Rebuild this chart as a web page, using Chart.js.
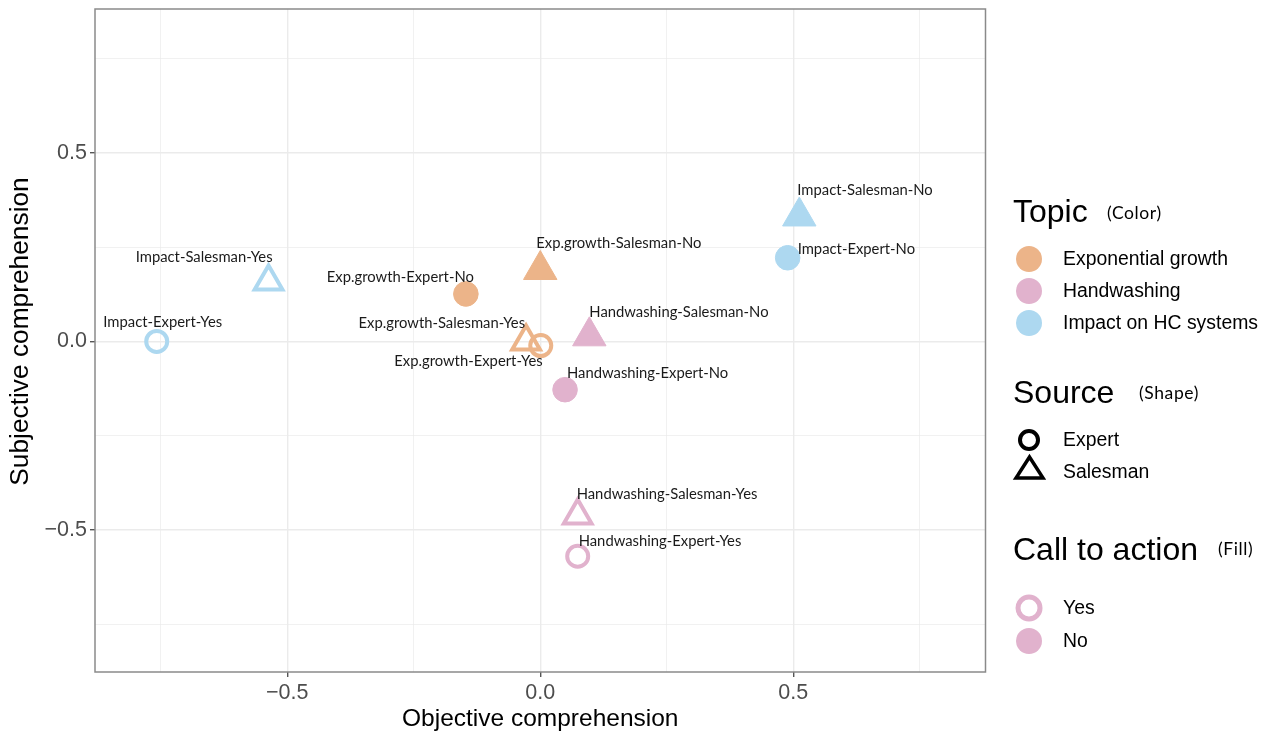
<!DOCTYPE html>
<html lang="en">
<head>
<meta charset="UTF-8">
<title>Objective vs subjective comprehension</title>
<script src="https://cdn.jsdelivr.net/npm/chart.js"></script>
<style>
  body { margin: 0; background: #fff; font-family: "Liberation Sans", Arial, sans-serif; }
  .wrap { position: relative; width: 1269px; height: 734px; }
  #plot { position: absolute; left: 0; top: 0; }
  .lg { position: absolute; white-space: nowrap; color: #000; line-height: 1; transform: translateY(-50%); }
  .lg.title { font-size: 32px; }
  .lg.note { font-size: 17.5px; letter-spacing: 0.6px; font-family: Lato, "Noto Sans", sans-serif; }
  .lg.item { font-size: 19.4px; }
  svg.keys { position: absolute; left: 0; top: 0; }
</style>
</head>
<body>
<div class="wrap">
  <canvas id="plot" width="1000" height="734"></canvas>

  <svg class="keys" width="1269" height="734">
    <circle cx="1029" cy="259" r="13" fill="#ECB489"/>
    <circle cx="1029" cy="291" r="13" fill="#E1B2CD"/>
    <circle cx="1029" cy="323" r="13" fill="#ADD8F0"/>
    <circle cx="1029" cy="440" r="9" fill="none" stroke="#000" stroke-width="4"/>
    <polygon points="1029.5,457 1016,478 1043,478" fill="none" stroke="#000" stroke-width="3.5"/>
    <circle cx="1029" cy="608" r="11" fill="none" stroke="#E1B2CD" stroke-width="5"/>
    <circle cx="1029" cy="641" r="13" fill="#E1B2CD"/>
  </svg>

  <div class="lg title" style="left:1013px; top:211px;">Topic</div>
  <div class="lg note" style="left:1107px; top:213px;">(Color)</div>
  <div class="lg item" style="left:1063px; top:259px;">Exponential growth</div>
  <div class="lg item" style="left:1063px; top:291px;">Handwashing</div>
  <div class="lg item" style="left:1063px; top:323px;">Impact on HC systems</div>

  <div class="lg title" style="left:1013px; top:392px;">Source</div>
  <div class="lg note" style="left:1139px; top:393px;">(Shape)</div>
  <div class="lg item" style="left:1063px; top:440px;">Expert</div>
  <div class="lg item" style="left:1063px; top:472px;">Salesman</div>

  <div class="lg title" style="left:1013px; top:549px;">Call to action</div>
  <div class="lg note" style="left:1218px; top:549px;">(Fill)</div>
  <div class="lg item" style="left:1063px; top:608px;">Yes</div>
  <div class="lg item" style="left:1063px; top:641px;">No</div>
</div>

<script>
// data
const pointLabels = [
  'Impact-Expert-Yes', 'Impact-Salesman-Yes', 'Exp.growth-Expert-No', 'Exp.growth-Salesman-No',
  'Exp.growth-Salesman-Yes', 'Exp.growth-Expert-Yes', 'Handwashing-Salesman-No', 'Handwashing-Expert-No',
  'Handwashing-Salesman-Yes', 'Handwashing-Expert-Yes', 'Impact-Salesman-No', 'Impact-Expert-No'
];
const topics  = ['Impact', 'Impact', 'Exp', 'Exp', 'Exp', 'Exp', 'Hand', 'Hand', 'Hand', 'Hand', 'Impact', 'Impact'];
const sources = ['Expert', 'Salesman', 'Expert', 'Salesman', 'Salesman', 'Expert', 'Salesman', 'Expert', 'Salesman', 'Expert', 'Salesman', 'Expert'];
const calls   = ['Yes', 'Yes', 'No', 'No', 'Yes', 'Yes', 'No', 'No', 'Yes', 'Yes', 'No', 'No'];
const objective  = [-0.758, -0.537, -0.147, 0.000, -0.028, 0.001, 0.097, 0.049, 0.074, 0.074, 0.512, 0.489];
const subjective = [0.000, 0.159, 0.126, 0.190, 0.000, -0.011, 0.014, -0.128, -0.462, -0.570, 0.332, 0.222];
const gridValues = [-0.75, -0.5, -0.25, 0, 0.25, 0.5, 0.75];
const xTitle = 'Objective comprehension';
const yTitle = 'Subjective comprehension';

const topicColor = { Exp: '#ECB489', Hand: '#E1B2CD', Impact: '#ADD8F0' };

// label placement next to each point: [dx, dy, align]
const labelOffsets = [
  [6, -19, 'center'], [4, -24, 'right'], [8, -17, 'right'], [-4, -27, 'left'],
  [-1, -18, 'right'], [2, 16, 'right'], [0, -24, 'left'], [2, -16, 'left'],
  [-1, -21, 'left'], [1, -15, 'left'], [-2, -26, 'left'], [10, -9, 'left']
];

const points = objective.map((x, i) => ({ x: x, y: subjective[i] }));
const colors = topics.map(t => topicColor[t]);
const hollow = calls.map(c => c === 'Yes');
const radii = sources.map((s, i) => s === 'Expert' ? (hollow[i] ? 10.5 : 12.3) : (hollow[i] ? 16 : 19.3));

const isMajor = v => Math.abs(v * 2 - Math.round(v * 2)) < 1e-6;
const fmt = v => (v < 0 ? '\u2212' : '') + Math.abs(v).toFixed(1);

const boxPlugin = {
  id: 'box',
  afterDatasetsDraw(chart) {
    const a = chart.chartArea, ctx = chart.ctx;
    ctx.save();
    ctx.strokeStyle = '#8a8a8a';
    ctx.lineWidth = 1.5;
    ctx.strokeRect(a.left, a.top, a.right - a.left, a.bottom - a.top);
    // y axis title, placed by hand
    ctx.translate(21, 331.5);
    ctx.rotate(-Math.PI / 2);
    ctx.font = '26.3px "Liberation Sans", Arial, sans-serif';
    ctx.fillStyle = '#000';
    ctx.textAlign = 'center';
    ctx.textBaseline = 'middle';
    ctx.fillText(yTitle, 0, 0);
    ctx.restore();
  }
};

const labelPlugin = {
  id: 'pointText',
  afterDraw(chart) {
    const ctx = chart.ctx;
    const meta = chart.getDatasetMeta(0);
    ctx.save();
    ctx.font = '14.8px Lato, "Noto Sans", sans-serif';
    ctx.fillStyle = '#1a1a1a';
    ctx.textBaseline = 'middle';
    meta.data.forEach((el, i) => {
      const o = labelOffsets[i];
      ctx.textAlign = o[2];
      ctx.fillText(pointLabels[i], el.x + o[0], el.y + o[1]);
    });
    ctx.restore();
  }
};

function axisGrid() {
  return {
    color: '#ebebeb',
    lineWidth: c => (c.tick && isMajor(c.tick.value)) ? 1.4 : 0.7,
    tickColor: c => (c.tick && isMajor(c.tick.value)) ? '#555' : 'rgba(0,0,0,0)',
    tickLength: 5,
    drawTicks: true
  };
}

new Chart(document.getElementById('plot').getContext('2d'), {
  type: 'scatter',
  data: {
    datasets: [{
      label: 'points',
      data: points,
      pointStyle: sources.map(s => s === 'Expert' ? 'circle' : 'triangle'),
      pointRadius: radii,
      pointHoverRadius: radii,
      backgroundColor: colors.map((c, i) => hollow[i] ? 'rgba(255,255,255,0)' : c),
      borderColor: colors,
      borderWidth: hollow.map(h => h ? 4 : 1)
    }]
  },
  options: {
    responsive: false,
    animation: false,
    devicePixelRatio: 1,
    layout: { autoPadding: false, padding: { top: 9, right: 14.5, left: 0, bottom: 0 } },
    plugins: { legend: { display: false }, tooltip: { enabled: false } },
    scales: {
      x: {
        type: 'linear', min: -0.88, max: 0.88,
        afterBuildTicks: s => { s.ticks = gridValues.map(v => ({ value: v })); },
        afterFit: s => { s.height = 62; s.paddingLeft = 0; s.paddingRight = 0; },
        border: { display: false },
        grid: axisGrid(),
        ticks: {
          callback: v => isMajor(v) ? fmt(v) : '',
          color: '#4d4d4d', font: { size: 21.5, family: '"Liberation Sans", Arial' }, padding: 3,
          maxRotation: 0, autoSkip: false
        },
        title: {
          display: true, text: xTitle, color: '#000',
          font: { size: 24.5, family: '"Liberation Sans", Arial' }, padding: { top: 0, bottom: 0 }
        }
      },
      y: {
        type: 'linear', min: -0.877, max: 0.882,
        afterBuildTicks: s => { s.ticks = gridValues.map(v => ({ value: v })); },
        afterFit: s => { s.width = 95; s.paddingTop = 0; s.paddingBottom = 0; },
        border: { display: false },
        grid: axisGrid(),
        ticks: {
          callback: v => isMajor(v) ? fmt(v) : '',
          color: '#4d4d4d', font: { size: 21.5, family: '"Liberation Sans", Arial' }, padding: 3,
          autoSkip: false
        },
        title: { display: false }
      }
    }
  },
  plugins: [boxPlugin, labelPlugin]
});
</script>
</body>
</html>
